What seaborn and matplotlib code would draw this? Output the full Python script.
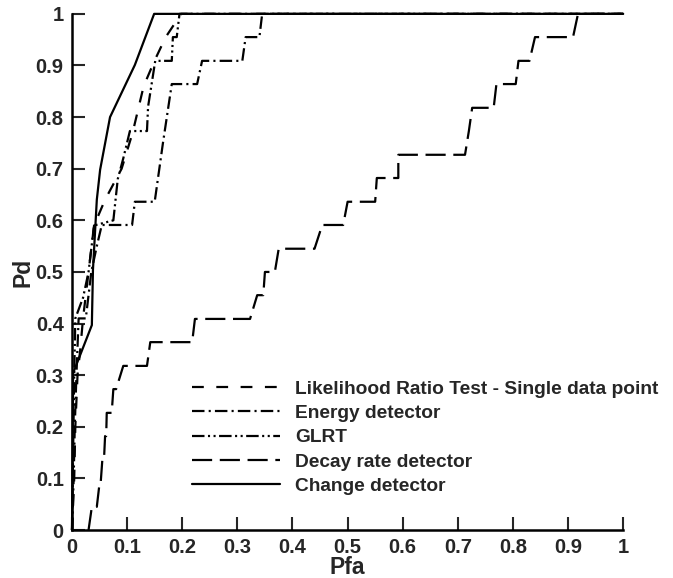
import matplotlib
matplotlib.use("Agg")
import matplotlib.pyplot as plt
import seaborn as sns
import numpy as np

# ---- data ----
lrt_pfa = [0.0, 0.004, 0.006, 0.010, 0.015, 0.020, 0.030, 0.040, 0.060, 0.090, 0.110, 0.130, 0.150, 0.170, 0.198, 1.0]
lrt_pd  = [0.0, 0.100, 0.200, 0.300, 0.350, 0.410, 0.500, 0.590, 0.640, 0.700, 0.770, 0.860, 0.910, 0.955, 1.000, 1.0]

energy_pfa = [0.0, 0.003, 0.005, 0.008, 0.012, 0.025, 0.035, 0.045, 0.054, 0.109, 0.114, 0.150, 0.165, 0.181, 0.227, 0.236, 0.309, 0.315, 0.340, 0.345, 1.0]
energy_pd  = [0.0, 0.100, 0.200, 0.300, 0.410, 0.410, 0.500, 0.550, 0.591, 0.591, 0.636, 0.636, 0.750, 0.864, 0.864, 0.909, 0.909, 0.955, 0.955, 1.000, 1.0]

glrt_pfa = [0.0, 0.002, 0.004, 0.006, 0.020, 0.030, 0.040, 0.075, 0.083, 0.093, 0.105, 0.136, 0.138, 0.151, 0.181, 0.183, 0.190, 0.195, 1.0]
glrt_pd  = [0.0, 0.150, 0.300, 0.410, 0.450, 0.500, 0.590, 0.600, 0.680, 0.720, 0.773, 0.773, 0.820, 0.909, 0.909, 0.955, 0.955, 1.000, 1.0]

decay_pfa = [0.030, 0.036, 0.045, 0.050, 0.052, 0.055, 0.058, 0.060, 0.062, 0.063, 0.072, 0.075, 0.080, 0.093, 0.136,
             0.142, 0.218, 0.223, 0.323, 0.336, 0.347, 0.350, 0.368, 0.375, 0.440, 0.454, 0.492, 0.500, 0.550,
             0.553, 0.592, 0.592, 0.713, 0.720, 0.726, 0.765, 0.770, 0.805, 0.810, 0.830, 0.840, 0.909, 0.918, 1.0]
decay_pd  = [0.000, 0.045, 0.045, 0.091, 0.091, 0.136, 0.136, 0.182, 0.182, 0.227, 0.227, 0.273, 0.273, 0.318, 0.318,
             0.364, 0.364, 0.409, 0.409, 0.455, 0.455, 0.500, 0.500, 0.545, 0.545, 0.591, 0.591, 0.636, 0.636,
             0.682, 0.682, 0.727, 0.727, 0.773, 0.818, 0.818, 0.864, 0.864, 0.909, 0.909, 0.955, 0.955, 1.000, 1.0]

change_pfa = [0.0, 0.002, 0.036, 0.038, 0.045, 0.051, 0.069, 0.114, 0.149, 1.0]
change_pd  = [0.0, 0.304, 0.397, 0.504, 0.640, 0.698, 0.800, 0.901, 1.000, 1.0]

labels = ["Likelihood Ratio Test - Single data point", "Energy detector", "GLRT",
          "Decay rate detector", "Change detector"]
ticks = [0, 0.1, 0.2, 0.3, 0.4, 0.5, 0.6, 0.7, 0.8, 0.9, 1]
tick_labels = ["0", "0.1", "0.2", "0.3", "0.4", "0.5", "0.6", "0.7", "0.8", "0.9", "1"]

# ---- style ----
sns.set_style("ticks")
plt.rcParams["font.family"] = ["Liberation Sans", "DejaVu Sans"]
plt.rcParams["font.weight"] = "bold"
plt.rcParams["lines.scale_dashes"] = False

fig = plt.figure(figsize=(6.73, 5.78), dpi=100)
ax = fig.add_axes([0.107, 0.083, 0.819, 0.893])

series = [(lrt_pfa, lrt_pd), (energy_pfa, energy_pd), (glrt_pfa, glrt_pd),
          (decay_pfa, decay_pd), (change_pfa, change_pd)]
dash_styles = [
    (8.5, 9.0),
    (9.0, 3.0, 1.5, 3.0),
    (9.0, 2.5, 1.5, 2.5, 1.5, 2.5),
    (14.5, 5.5),
    None,
]

for (xs, ys), lab, ds in zip(series, labels, dash_styles):
    sns.lineplot(x=xs, y=ys, ax=ax, color="black", linewidth=1.6, sort=False,
                 estimator=None, label=lab)
    ln = ax.lines[-1]
    ln.set_clip_on(False)
    if ds is not None:
        ln.set_dashes(ds)
    else:
        ln.set_linestyle("-")

ax.set_xlim(0, 1)
ax.set_ylim(0, 1)
ax.set_xticks(ticks)
ax.set_xticklabels(tick_labels)
ax.set_yticks(ticks)
ax.set_yticklabels(tick_labels)
ax.tick_params(direction="in", length=9.5, width=1.5, labelsize=14.5, pad=6)
for t in ax.get_xticklabels() + ax.get_yticklabels():
    t.set_fontweight("bold")

sns.despine(ax=ax, top=True, right=True)
for side in ("left", "bottom"):
    ax.spines[side].set_linewidth(1.8)
    ax.spines[side].set_color("black")

ax.set_xlabel("Pfa", fontsize=16.5, fontweight="bold", labelpad=-1)
ax.set_ylabel("Pd", fontsize=16.5, fontweight="bold", labelpad=1)

leg = ax.legend(loc="upper left", bbox_to_anchor=(0.218, 0.290), frameon=False,
                handlelength=4.6, handletextpad=0.78, labelspacing=0.36,
                prop={"family": ["Liberation Sans"], "weight": "bold", "size": 13.8},
                borderaxespad=0.0, borderpad=0.0)

fig.savefig("out.png", dpi=100)
